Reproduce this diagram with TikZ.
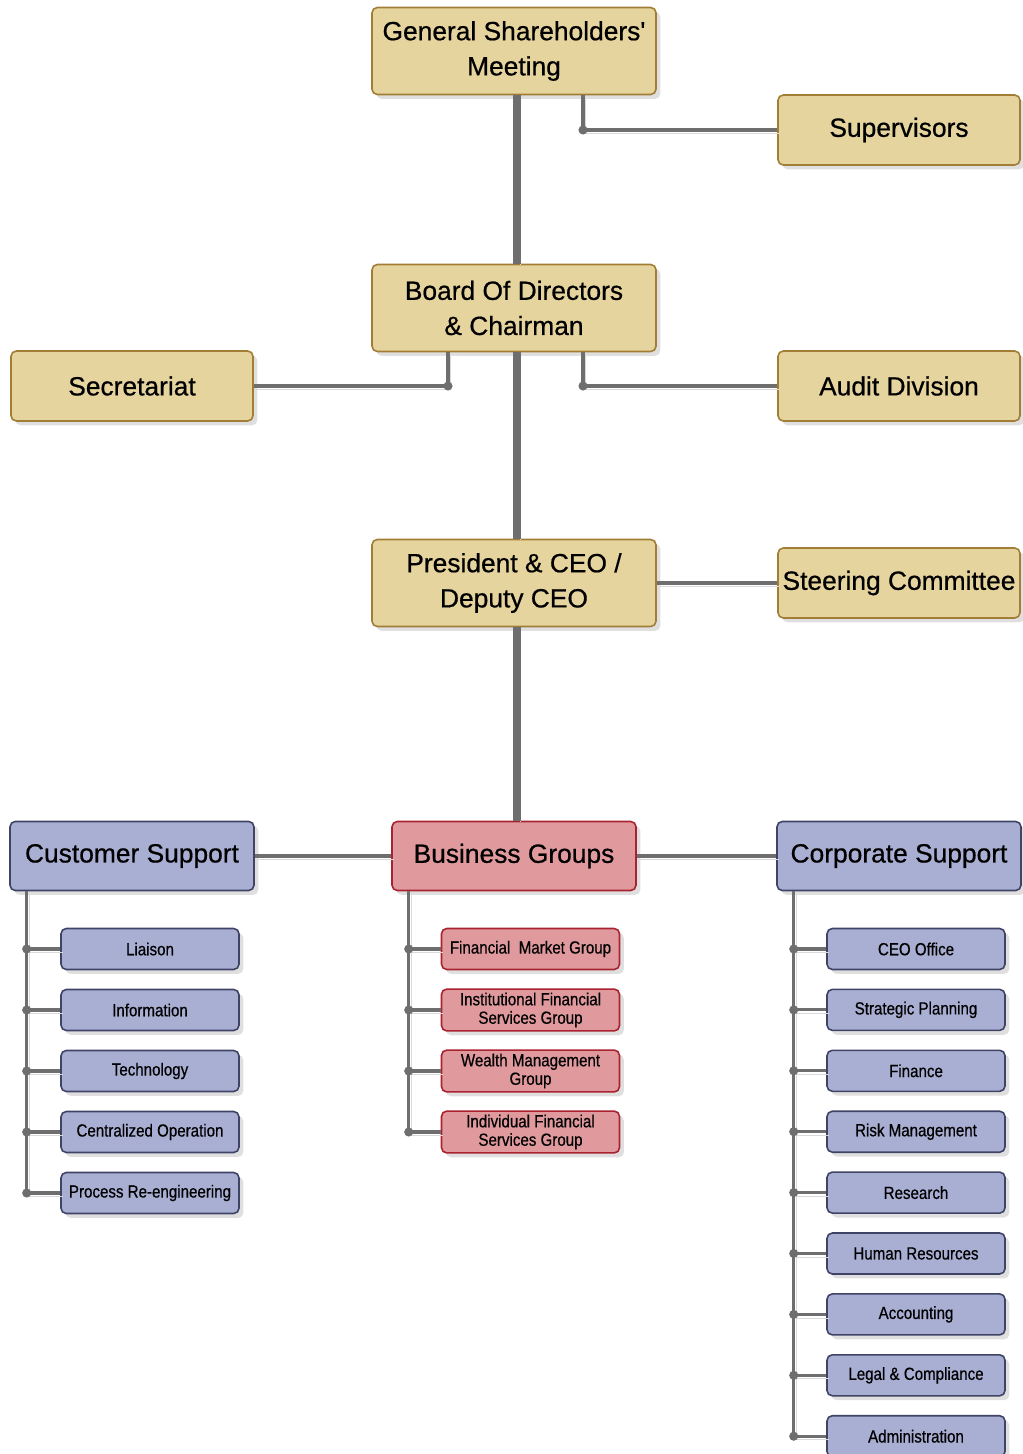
\documentclass[tikz,border=0pt]{standalone}
\usepackage{fontspec}
\setmainfont[FakeBold=0.5]{Liberation Sans}
\newfontfamily\bigfont[FakeBold=0.6]{Liberation Sans}
\newfontfamily\narrowfont[FakeStretch=0.86,FakeBold=0.5]{Liberation Sans}
\usepackage{tikz}
\usetikzlibrary{positioning,shadows}
\definecolor{tanfill}{HTML}{E6D49E}
\definecolor{tanline}{HTML}{A27D35}
\definecolor{bluefill}{HTML}{A9AED3}
\definecolor{blueline}{HTML}{3F4366}
\definecolor{pinkfill}{HTML}{E09A9E}
\definecolor{pinkline}{HTML}{A8222F}
\definecolor{linegray}{HTML}{6E6E6E}

\begin{document}
\begin{tikzpicture}[node distance=5cm,on grid]
        \tikzstyle{box}=[rectangle,rounded corners=3pt,align=center,inner sep=2pt,line width=0.9pt,drop shadow={shadow xshift=2.5pt,shadow yshift=-2.5pt,opacity=0.25}]
        \tikzstyle{head}=[box,draw=tanline,fill=tanfill,minimum width=5.68cm,minimum height=1.74cm,font=\bigfont\fontsize{15}{20}\selectfont]
        \tikzstyle{side}=[box,draw=tanline,fill=tanfill,minimum width=4.84cm,minimum height=1.4cm,font=\bigfont\fontsize{15}{20}\selectfont]
        \tikzstyle{group}=[box,minimum width=4.88cm,minimum height=1.38cm,font=\bigfont\fontsize{15}{20}\selectfont]
        \tikzstyle{unit}=[box,minimum width=3.56cm,minimum height=0.82cm,font=\narrowfont\fontsize{10}{10.5}\selectfont]
        \tikzstyle{link}=[draw=linegray,line width=1.8pt,preaction={draw=black!15,transform canvas={shift={(1.5pt,-2pt)}}}]
        \tikzstyle{trunk}=[draw=linegray,line width=5pt,preaction={draw=black!15,transform canvas={shift={(2pt,-1pt)}}}]
        \useasboundingbox (0,0) rectangle (20.44,-29.08);
        \node[head] (gsm) at (10.28,-1.02) {General Shareholders\textquotesingle\\Meeting};
        \node[head] (board) [below=5.14cm of gsm] {Board Of Directors\\\& Chairman};
        \node[head] (pres) [below=5.5cm of board] {President \& CEO /\\Deputy CEO};
        \node[group,draw=pinkline,fill=pinkfill] (bg) [below=5.46cm of pres] {Business Groups};
        \node[side] (sup) [below right=1.58cm and 7.7cm of gsm] {Supervisors};
        \node[side] (sec) [below left=1.56cm and 7.64cm of board] {Secretariat};
        \node[side] (audit) [below right=1.56cm and 7.7cm of board] {Audit Division};
        \node[side] (steer) [right=7.7cm of pres] {Steering Committee};
        \node[group,draw=blueline,fill=bluefill] (cust) [left=7.64cm of bg] {Customer Support};
        \node[group,draw=blueline,fill=bluefill] (corp) [right=7.7cm of bg] {Corporate Support};
        \foreach \t [count=\i] in {Liaison,Information,Technology,Centralized Operation,Process Re-engineering}
            \node[unit,draw=blueline,fill=bluefill] (cs\i) at ([xshift=0.36cm,yshift={-(0.64+1.22*\i)*1cm}]cust) {\t};
        \foreach \t [count=\i] in {{Financial\ \ Market Group},{Institutional Financial\\Services Group},{Wealth Management\\Group},{Individual Financial\\Services Group}}
            \node[unit,draw=pinkline,fill=pinkfill] (bs\i) at ([xshift=0.33cm,yshift={-(0.64+1.22*\i)*1cm}]bg) {\t};
        \foreach \t [count=\i] in {CEO Office,Strategic Planning,Finance,Risk Management,Research,Human Resources,Accounting,Legal \& Compliance,Administration}
            \node[unit,draw=blueline,fill=bluefill] (cp\i) at ([xshift=0.34cm,yshift={-(0.642+1.218*\i)*1cm}]corp) {\t};
        \path[trunk] ([xshift=0.06cm]gsm.south) -- ([xshift=0.06cm]board.north) ([xshift=0.06cm]board.south) -- ([xshift=0.06cm]pres.north) ([xshift=0.06cm]pres.south) -- ([xshift=0.06cm]bg.north);
        \coordinate (tapgsm) at ([xshift=1.38cm]gsm.south);
        \coordinate (tapsec) at ([xshift=-1.32cm]board.south);
        \coordinate (tapaudit) at ([xshift=1.38cm]board.south);
        \draw[link] (tapgsm) |- (sup.west);
        \draw[link] (tapsec) |- (sec.east);
        \draw[link] (tapaudit) |- (audit.west);
        \fill[linegray] (tapgsm |- sup.west) circle (2.6pt) (tapsec |- sec.east) circle (2.6pt) (tapaudit |- audit.west) circle (2.6pt);
        \draw[link] (pres) -- (steer);
        \draw[link] (cust) -- (bg);
        \draw[link] (bg) -- (corp);
        \foreach \grp/\pre/\n in {cust/cs/5,bg/bs/4,corp/cp/9} {
            \coordinate (tap\pre) at ([xshift=0.35cm]\grp.south west);
            \draw[link] (tap\pre) |- (\pre\n.west);
            \foreach \i in {1,...,\n} {
                \draw[link] (tap\pre |- \pre\i.west) -- (\pre\i.west);
                \fill[linegray] (tap\pre |- \pre\i.west) circle (2.6pt);
            }
        }
    \end{tikzpicture}
\end{document}
